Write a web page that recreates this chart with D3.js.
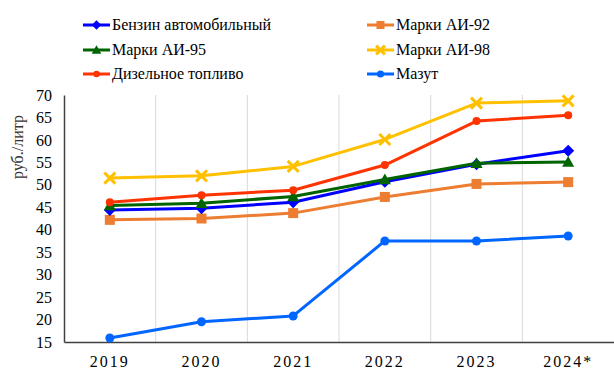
<!DOCTYPE html>
<html><head><meta charset="utf-8">
<script src="https://cdn.jsdelivr.net/npm/d3@7"></script>
<style>body{margin:0;background:#fff} svg text{font-family:"Liberation Serif","Times New Roman",serif !important;}</style>
</head><body>
<svg id="c" width="614" height="382"></svg>
<script>
const categories = ["2019","2020","2021","2022","2023","2024*"];
const benzin = [44.4, 44.8, 46.1, 50.7, 54.6, 57.6];
const ai92 = [42.2, 42.5, 43.7, 47.3, 50.2, 50.6];
const ai95 = [45.4, 45.9, 47.4, 51.2, 54.8, 55.1];
const ai98 = [51.5, 52.0, 54.1, 60.1, 68.2, 68.7];
const diesel = [46.1, 47.7, 48.8, 54.4, 64.2, 65.5];
const mazut = [15.9, 19.5, 20.8, 37.5, 37.5, 38.6];
const yTicks = [15,20,25,30,35,40,45,50,55,60,65,70];

const series = [
  {name:"Бензин автомобильный", values:benzin, color:"#0000FF", marker:"diamond"},
  {name:"Марки АИ-92", values:ai92, color:"#ED7D31", marker:"square"},
  {name:"Марки АИ-95", values:ai95, color:"#006400", marker:"triangle"},
  {name:"Марки АИ-98", values:ai98, color:"#FFC000", marker:"x"},
  {name:"Дизельное топливо", values:diesel, color:"#FF3300", marker:"circleS"},
  {name:"Мазут", values:mazut, color:"#0066FF", marker:"circle"}
];

const svg = d3.select("#c");
const pL = 64, pR = 614, pT = 95, pB = 342;
const x = d3.scaleBand().domain(categories).range([pL, pR]);
const y = d3.scaleLinear().domain([15,70]).range([pB, pT]);

// vertical gridlines
svg.append("g").selectAll("line").data(categories.slice(1)).join("line")
  .attr("x1", d=>x(d)).attr("x2", d=>x(d)).attr("y1", pT).attr("y2", pB)
  .attr("stroke", "#d9d9d9").attr("stroke-width", 1);

// axes
const yAxis = svg.append("g").attr("transform", `translate(${pL},0)`)
  .call(d3.axisLeft(y).tickValues(yTicks).tickSize(0).tickPadding(12));
yAxis.select(".domain").attr("stroke", "#404040").attr("stroke-width", 1.5);
yAxis.selectAll("text").attr("font-size", 16).attr("fill", "#000");

const xAxis = svg.append("g").attr("transform", `translate(0,${pB})`)
  .call(d3.axisBottom(x).tickSize(0).tickPadding(14));
xAxis.select(".domain").attr("stroke", "#404040").attr("stroke-width", 1.5);
xAxis.selectAll("text").attr("font-size", 16).attr("fill", "#000")
  .attr("letter-spacing", "2px");

// y title
svg.append("text").attr("transform", "translate(23,147) rotate(-90)")
  .attr("text-anchor", "middle").attr("font-size", 16)
  .attr("fill", "#333").text("руб./литр");

function drawMarker(g, type, color, cx, cy, scale=1) {
  if (type === "diamond") {
    const s = 6*scale;
    g.append("path").attr("d", `M${cx},${cy-s}L${cx+s},${cy}L${cx},${cy+s}L${cx-s},${cy}Z`).attr("fill", color);
  } else if (type === "square") {
    const s = 5*scale;
    g.append("rect").attr("x", cx-s).attr("y", cy-s).attr("width", 2*s).attr("height", 2*s).attr("fill", color);
  } else if (type === "triangle") {
    const s = 6*scale;
    g.append("path").attr("d", `M${cx},${cy-s}L${cx+s},${cy+s*0.8}L${cx-s},${cy+s*0.8}Z`).attr("fill", color);
  } else if (type === "x") {
    const s = 5.5*scale;
    g.append("path").attr("d", `M${cx-s},${cy-s}L${cx+s},${cy+s}M${cx-s},${cy+s}L${cx+s},${cy-s}`)
      .attr("stroke", color).attr("stroke-width", 3);
  } else if (type === "circleS") {
    g.append("circle").attr("cx", cx).attr("cy", cy).attr("r", 4*scale).attr("fill", color);
  } else {
    g.append("circle").attr("cx", cx).attr("cy", cy).attr("r", 4.5*scale).attr("fill", color);
  }
}

const line = d3.line().x((d,i)=>x(categories[i]) + x.bandwidth()/2).y(d=>y(d));
const drawOrder = [5,1,0,2,4,3];
drawOrder.forEach(k => {
  const s = series[k];
  const g = svg.append("g");
  g.append("path").attr("d", line(s.values)).attr("fill", "none")
    .attr("stroke", s.color).attr("stroke-width", 3).attr("stroke-linejoin", "round");
  s.values.forEach((v,i) => drawMarker(g, s.marker, s.color, x(categories[i]) + x.bandwidth()/2, y(v)));
});

// legend
const legPos = [[83,25],[367,25],[83,50],[367,50],[83,74],[367,74]];
series.forEach((s,i) => {
  const [lx, ly] = legPos[i];
  const g = svg.append("g");
  g.append("line").attr("x1", lx).attr("x2", lx+27).attr("y1", ly).attr("y2", ly)
    .attr("stroke", s.color).attr("stroke-width", 3);
  drawMarker(g, s.marker, s.color, lx+13.5, ly, 0.8);
  g.append("text").attr("x", lx+29).attr("y", ly+5)
    .attr("font-size", 16).attr("fill", "#000").text(s.name);
});
</script>
</body></html>
